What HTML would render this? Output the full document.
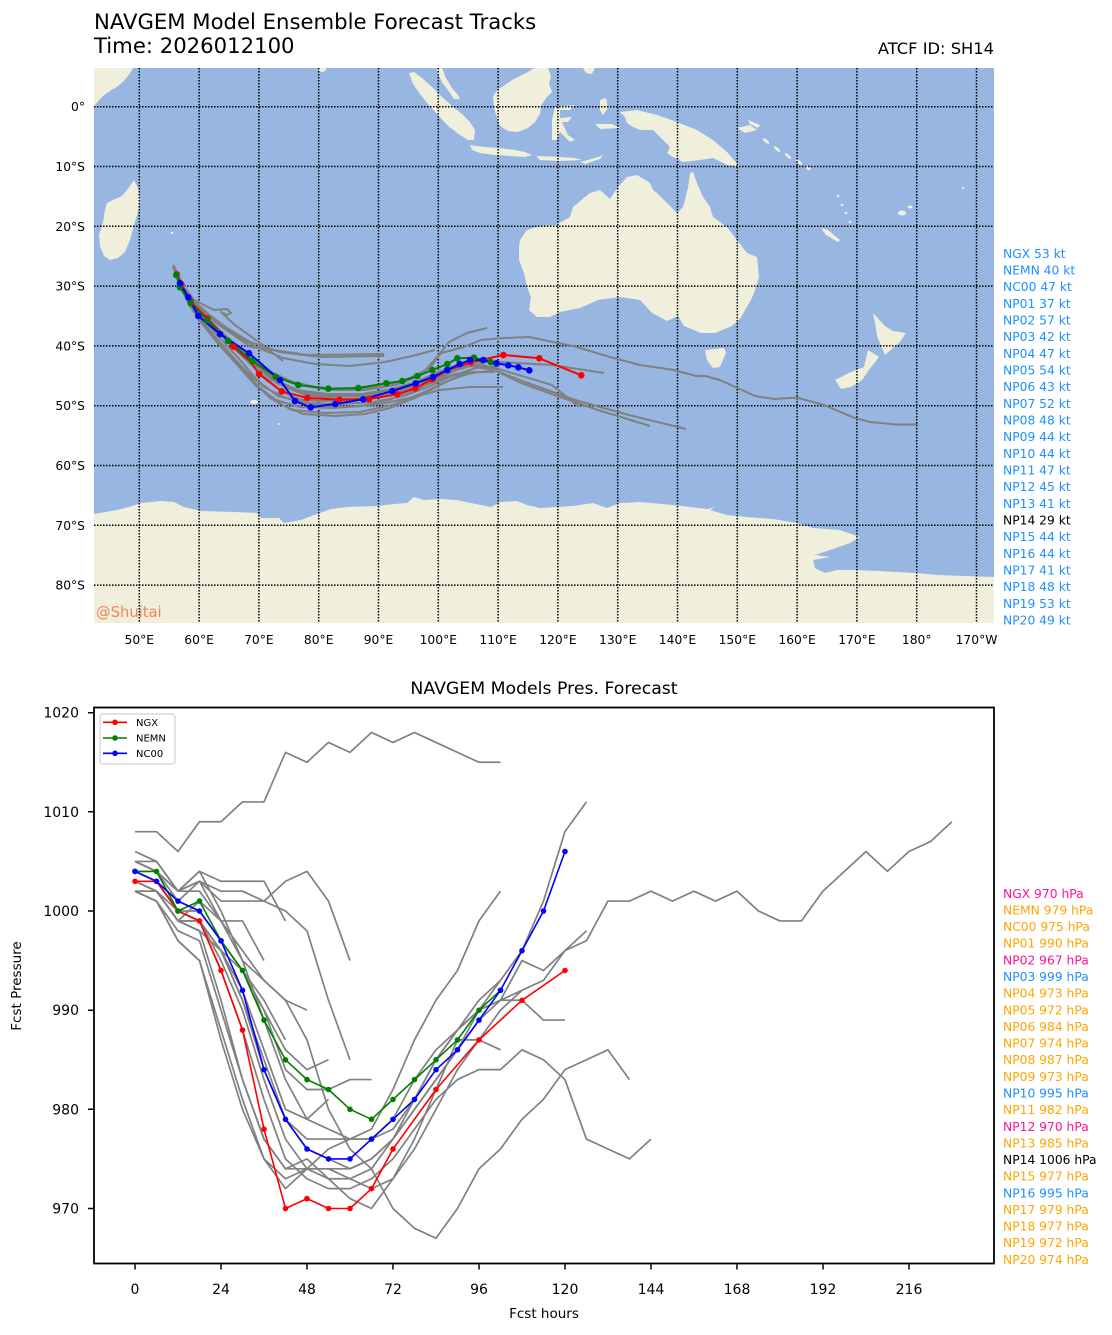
<!DOCTYPE html>
<html><head><meta charset="utf-8"><style>
html,body{margin:0;padding:0;background:#fff;}
svg{display:block;font-family:"DejaVu Sans","Liberation Sans",sans-serif;}
</style></head><body>
<svg width="1112" height="1335" viewBox="0 0 1112 1335" xmlns="http://www.w3.org/2000/svg">
<rect width="1112" height="1335" fill="#fff"/>
<text x="94" y="29" font-size="21.2">NAVGEM Model Ensemble Forecast Tracks</text>
<text x="94" y="53" font-size="21.2">Time: 2026012100</text>
<text x="994" y="54" font-size="16.3" text-anchor="end">ATCF ID: SH14</text>
<defs><clipPath id="mc"><rect x="94" y="68" width="900" height="555"/></clipPath></defs>
<g clip-path="url(#mc)">
<rect x="94" y="68" width="900" height="555" fill="#97b6e1"/>
<g fill="#efefdc">
<path d="M94,68 L133,68 C128,78 120,86 110,91 C102,96 97,102 94,107 Z"/>
<ellipse cx="322" cy="69" rx="4" ry="3"/>
<polygon points="127,190 134,180 138,188 140,200 138,212 134,225 130,240 125,252 118,258 110,260 104,256 100,246 99,235 103,222 105,210 107,203 115,199 122,196"/>
<polygon points="409,73 414,72 422,78 432,87 440,95 452,106 462,114 470,122 475,130 474,140 468,140 460,135 448,126 438,115 428,104 420,94 413,84"/>
<polygon points="437,68 442,68 446,78 452,88 458,95 460,99 454,99 448,90 442,82 438,74"/>
<polygon points="493,97 497,90 505,85 512,80 520,76 528,72 534,68 548,68 551,76 549,84 552,92 546,98 541,106 540,114 535,122 528,128 518,132 508,131 500,126 497,118 494,108"/>
<polygon points="470,145 485,147 500,148 515,150 525,152 532,155 525,157 510,156 495,155 480,153 472,150"/>
<polygon points="536,156 560,157 575,158 582,160 560,161 540,160"/>
<polygon points="580,162 595,158 603,155 600,159 585,164"/>
<polygon points="555,107 575,105 570,110 560,110 560,118 572,117 568,122 562,122 568,135 575,140 570,142 560,132 557,140 552,140 552,120"/>
<polygon points="583,68 595,68 592,74 586,73"/>
<polygon points="600,100 606,98 608,108 603,115 600,110"/>
<polygon points="595,124 612,124 620,128 600,129"/>
<polygon points="620,112 637,110 657,115 677,122 697,130 713,140 727,152 740,167 727,165 713,158 700,160 683,162 673,157 667,153 670,147 653,130 640,130 633,127 627,123 625,117"/>
<polygon points="737,128 750,125 757,130 745,133"/>
<polygon points="748,120 760,125 758,128 750,124"/>
<ellipse cx="766" cy="141" rx="4" ry="1.5" transform="rotate(40 766 141)"/>
<ellipse cx="777" cy="149" rx="4" ry="1.5" transform="rotate(40 777 149)"/>
<ellipse cx="788" cy="156" rx="4" ry="1.5" transform="rotate(40 788 156)"/>
<ellipse cx="799" cy="162" rx="4" ry="1.5" transform="rotate(40 799 162)"/>
<ellipse cx="808" cy="168" rx="3" ry="1.5" transform="rotate(40 808 168)"/>
<circle cx="838" cy="196" r="1.3"/><circle cx="842" cy="205" r="1.3"/><circle cx="846" cy="213" r="1.3"/><circle cx="850" cy="222" r="1.3"/>
<polygon points="821,228 828,230 840,240 838,242 826,235"/>
<ellipse cx="902" cy="213" rx="4" ry="2.5"/><ellipse cx="910" cy="207" rx="2.5" ry="1.5"/>
<circle cx="963" cy="188" r="1.2"/><circle cx="172" cy="233" r="1.2"/>
<polygon points="519,247 520,240 527,230 540,226 556,225 570,217 573,207 585,197 590,193 600,190 610,199 618,187 627,177 637,175 650,183 653,190 657,193 667,203 677,213 683,207 688,188 690,173 693,172 697,183 703,197 710,207 713,217 727,227 737,240 747,253 757,257 759,277 754,293 751,300 740,319 732,326 715,333 701,333 684,326 678,316 667,321 652,313 640,300 620,297 598,300 580,308 560,312 550,317 537,317 529,310 531,297 527,287 524,273 519,260"/>
<polygon points="705,350 724,348 726,353 720,367 713,368 707,360"/>
<polygon points="873,313 885,326 893,331 906,333 900,342 893,348 885,355 881,346 877,336 875,323"/>
<polygon points="879,357 869,370 862,380 851,387 841,389 835,380 851,372 864,367 868,350"/>
<ellipse cx="254" cy="402" rx="4" ry="2"/>
<circle cx="279" cy="424" r="1"/>
<polygon points="94,514 117,510 129,507 141,503 161,501 174,502 184,507 201,511 234,512 257,513 261,518 279,518 284,523 301,520 314,515 331,509 347,507 377,506 394,504 407,503 414,497 424,500 441,499 457,500 471,503 491,507 501,502 517,501 527,505 540,508 573,506 593,503 607,508 620,503 640,502 673,505 707,509 715,507 710,510 727,515 747,517 773,519 797,523 813,528 840,530 860,537 850,543 830,550 815,555 830,557 813,560 815,568 825,573 837,570 857,570 917,573 937,575 994,577 994,623 94,623"/>
</g>
<g stroke="#000" stroke-width="1.5" stroke-dasharray="1.5,1.5" fill="none">
<path d="M139.3,68V623M199.1,68V623M258.9,68V623M318.7,68V623M378.5,68V623M438.3,68V623M498.1,68V623M557.9,68V623M617.7,68V623M677.5,68V623M737.3,68V623M797.1,68V623M856.9,68V623M916.7,68V623M976.5,68V623"/>
<path d="M94,106.7H994M94,166.5H994M94,226.3H994M94,286.1H994M94,345.9H994M94,405.7H994M94,465.5H994M94,525.3H994M94,585.1H994"/>
</g>
<g stroke="#808080" stroke-width="2" fill="none" stroke-linejoin="round">
<polyline points="174,266 181,284 191,302 206,318 224,336 244,354 262,368 286,380 315,387 350,390 385,386 410,378 430,368 441,353 464,347 481,340 504,338 529,337 575,346.5 610,357 640,365 674,370 696,376 705,376 720,380 755,396 774,399 797,397.6 824,405 854,417.7 870,422 896,424.5 918,424.5"/>
<polyline points="175,270 183,289 194,306 210,322 230,342 252,362 272,380 298,392 330,396 365,396 395,392 420,384 442,374 462,366 482,364 502,373 525,382 575,400 629,415 686,429"/>
<polyline points="176,272 184,290 196,308 213,325 234,345 257,366 278,384 305,395 338,399 372,398 402,393 425,384 447,373 470,366 494,370 521,383 560,397 598,410 650,426"/>
<polyline points="174,268 182,288 193,306 209,322 228,341 250,361 270,378 295,390 328,394 362,394 392,389 416,382 438,372 462,364 495,368 552,385 579,407"/>
<polyline points="175,270 184,290 196,307 212,323 231,342 253,362 275,380 302,392 335,396 368,394 398,389 422,380 444,370 466,362 498,362 552,365 604,373"/>
<polyline points="176,271 185,292 198,311 216,330 238,352 260,373 282,392 310,404 345,407 380,404 410,398 440,390 470,387 503,387"/>
<polyline points="174,267 182,286 193,304 209,320 229,339 250,357 271,372 297,384 330,390 365,390 395,385 420,376 437,357 449,342 467,333 487,328"/>
<polyline points="175,269 184,288 197,305 215,322 235,336 251,347 274,350 307,355 384,354"/>
<polyline points="173,265 180,282 191,298 207,313 227,328 250,342 280,352 320,357 384,356"/>
<polyline points="174,268 185,288 194,300 214,310 227,309 231,313 227,315 221,312 235,325 260,343 283,361"/>
<polyline points="175,271 183,291 195,312 212,333 232,356 252,380 270,398 292,410 325,413 360,412 392,405 420,394 445,382 470,373 492,371"/>
<polyline points="176,273 186,295 200,318 218,340 238,363 258,386 280,404 303,414 335,416 365,414 390,408 415,398 438,386 458,376 478,372"/>
<polyline points="173,266 179,283 188,300 202,318 220,338 240,360 258,381 278,396 306,403 340,404 374,402 404,396 428,387 452,376 476,368 500,366"/>
<polyline points="175,270 181,288 190,306 203,325 220,346 240,368 256,386 276,400 300,407 333,408 362,406 388,400 412,392 436,380 456,370"/>
<polyline points="174,269 182,289 193,309 208,329 226,350 246,371 264,387 286,398 318,401 352,400 382,397 408,390 430,381 450,372 468,366"/>
<polyline points="176,270 185,289 197,307 213,324 232,343 254,363 276,380 300,392 330,398 362,399 392,395 416,389 436,381 455,374 474,372 495,372"/>
<polyline points="174,268 183,287 196,303 213,318 233,333 256,347 283,358 315,364 350,366 385,362 412,356 435,350"/>
</g>
<g fill="none" stroke-width="2" stroke-linejoin="round">
<polyline stroke="#ff0000" points="176.7,274.3 181.3,284.3 190.7,301.7 207.3,318.3 219,331 233.3,346.7 250.7,361.7 259,374 281.7,391.3 307.3,398 339.3,399.7 369,399 397.3,394.3 415.3,388.3 432.3,379.3 447.3,370 470.7,362.3 503.3,355 539.3,358.3 581.3,375.3"/>
<polyline stroke="#008000" points="176.3,275 180,287.3 190.7,303.3 207.3,320 228,340.7 252.3,361 275.7,376.7 298.3,385 328.3,388.7 358.3,388 386.3,383.3 402.3,381 417.3,376 432.3,370 447.3,364 457.3,358.3 474,357.7 490.7,362"/>
<polyline stroke="#0000ff" points="180,283.3 188.3,297.3 198.3,316 220,334 249,353.3 280,380 295,401 310.7,407.3 335.3,404 363.3,399.3 392.3,391 415.7,383.3 433,377 447.3,370 459.7,364 470,360 483.3,360 496.3,363.3 508.3,365.3 518.3,367.3 529.3,370.3"/>
</g>
<g fill="#ff0000">
<circle cx="176.7" cy="274.3" r="3.3"/><circle cx="181.3" cy="284.3" r="3.3"/><circle cx="190.7" cy="301.7" r="3.3"/><circle cx="207.3" cy="318.3" r="3.3"/><circle cx="233.3" cy="346.7" r="3.3"/><circle cx="259" cy="374" r="3.3"/><circle cx="281.7" cy="391.3" r="3.3"/><circle cx="307.3" cy="398" r="3.3"/><circle cx="339.3" cy="399.7" r="3.3"/><circle cx="369" cy="399" r="3.3"/><circle cx="397.3" cy="394.3" r="3.3"/><circle cx="415.3" cy="388.3" r="3.3"/><circle cx="432.3" cy="379.3" r="3.3"/><circle cx="447.3" cy="370" r="3.3"/><circle cx="470.7" cy="362.3" r="3.3"/><circle cx="503.3" cy="355" r="3.3"/><circle cx="539.3" cy="358.3" r="3.3"/><circle cx="581.3" cy="375.3" r="3.3"/>
</g>
<g fill="#008000">
<circle cx="176.3" cy="275" r="3.3"/><circle cx="180" cy="287.3" r="3.3"/><circle cx="190.7" cy="303.3" r="3.3"/><circle cx="207.3" cy="320" r="3.3"/><circle cx="228" cy="340.7" r="3.3"/><circle cx="252.3" cy="361" r="3.3"/><circle cx="275.7" cy="376.7" r="3.3"/><circle cx="298.3" cy="385" r="3.3"/><circle cx="328.3" cy="388.7" r="3.3"/><circle cx="358.3" cy="388" r="3.3"/><circle cx="386.3" cy="383.3" r="3.3"/><circle cx="402.3" cy="381" r="3.3"/><circle cx="417.3" cy="376" r="3.3"/><circle cx="432.3" cy="370" r="3.3"/><circle cx="447.3" cy="364" r="3.3"/><circle cx="457.3" cy="358.3" r="3.3"/><circle cx="474" cy="357.7" r="3.3"/><circle cx="490.7" cy="362" r="3.3"/>
</g>
<g fill="#0000ff">
<circle cx="180" cy="283.3" r="3.3"/><circle cx="188.3" cy="297.3" r="3.3"/><circle cx="198.3" cy="316" r="3.3"/><circle cx="220" cy="334" r="3.3"/><circle cx="249" cy="353.3" r="3.3"/><circle cx="280" cy="380" r="3.3"/><circle cx="295" cy="401" r="3.3"/><circle cx="310.7" cy="407.3" r="3.3"/><circle cx="335.3" cy="404" r="3.3"/><circle cx="363.3" cy="399.3" r="3.3"/><circle cx="392.3" cy="391" r="3.3"/><circle cx="415.7" cy="383.3" r="3.3"/><circle cx="433" cy="377" r="3.3"/><circle cx="447.3" cy="370" r="3.3"/><circle cx="459.7" cy="364" r="3.3"/><circle cx="470" cy="360" r="3.3"/><circle cx="483.3" cy="360" r="3.3"/><circle cx="496.3" cy="363.3" r="3.3"/><circle cx="508.3" cy="365.3" r="3.3"/><circle cx="518.3" cy="367.3" r="3.3"/><circle cx="529.3" cy="370.3" r="3.3"/>
</g>
<text x="96" y="617" font-size="14.7" fill="#f5825a">@Shuitai</text>
</g>
<g font-size="12.3" text-anchor="end">
<text x="85" y="111">0°</text><text x="85" y="171">10°S</text><text x="85" y="230.8">20°S</text><text x="85" y="290.6">30°S</text><text x="85" y="350.4">40°S</text><text x="85" y="410.2">50°S</text><text x="85" y="470">60°S</text><text x="85" y="529.8">70°S</text><text x="85" y="589.6">80°S</text>
</g>
<g font-size="12.3" text-anchor="middle">
<text x="139.3" y="644">50°E</text><text x="199.1" y="644">60°E</text><text x="258.9" y="644">70°E</text><text x="318.7" y="644">80°E</text><text x="378.5" y="644">90°E</text><text x="438.3" y="644">100°E</text><text x="498.1" y="644">110°E</text><text x="557.9" y="644">120°E</text><text x="617.7" y="644">130°E</text><text x="677.5" y="644">140°E</text><text x="737.3" y="644">150°E</text><text x="797.1" y="644">160°E</text><text x="856.9" y="644">170°E</text><text x="916.7" y="644">180°</text><text x="976.5" y="644">170°W</text>
</g>
<g font-size="12.3" fill="#1e90ff">
<text x="1003" y="257.8">NGX 53 kt</text><text x="1003" y="274.5">NEMN 40 kt</text><text x="1003" y="291.1">NC00 47 kt</text><text x="1003" y="307.8">NP01 37 kt</text><text x="1003" y="324.5">NP02 57 kt</text><text x="1003" y="341.2">NP03 42 kt</text><text x="1003" y="357.8">NP04 47 kt</text><text x="1003" y="374.5">NP05 54 kt</text><text x="1003" y="391.2">NP06 43 kt</text><text x="1003" y="407.8">NP07 52 kt</text><text x="1003" y="424.5">NP08 48 kt</text><text x="1003" y="441.2">NP09 44 kt</text><text x="1003" y="457.9">NP10 44 kt</text><text x="1003" y="474.5">NP11 47 kt</text><text x="1003" y="491.2">NP12 45 kt</text><text x="1003" y="507.9">NP13 41 kt</text><text x="1003" y="524.5" fill="#000">NP14 29 kt</text><text x="1003" y="541.2">NP15 44 kt</text><text x="1003" y="557.9">NP16 44 kt</text><text x="1003" y="574.5">NP17 41 kt</text><text x="1003" y="591.2">NP18 48 kt</text><text x="1003" y="607.9">NP19 53 kt</text><text x="1003" y="624.5">NP20 49 kt</text>
</g>

<!-- Pressure chart -->
<text x="544" y="694" font-size="17.3" text-anchor="middle">NAVGEM Models Pres. Forecast</text>
<defs><clipPath id="pc"><rect x="94" y="707.5" width="900" height="556"/></clipPath></defs>
<g clip-path="url(#pc)">
<g transform="matrix(3.583,0,0,-9.916,135,10827.0)" fill="none" stroke="#808080" stroke-width="1.7" stroke-linejoin="round">
<polyline vector-effect="non-scaling-stroke" points="0,1004 6,1004 12,1002 18,1002 24,999 30,996 36,993 42,991 48,990"/>
<polyline vector-effect="non-scaling-stroke" points="0,1005 6,1004 12,1002 18,1003 24,999 30,995 36,993 42,991 48,987 54,980 60,976 66,974 72,970 78,968 84,967 90,970 96,974 102,976 108,979 114,981 120,984 126,985 132,986 138,983"/>
<polyline vector-effect="non-scaling-stroke" points="0,1005 6,1004 12,1002 18,1004 24,1003 30,1003 36,1003 42,999"/>
<polyline vector-effect="non-scaling-stroke" points="0,1004 6,1003 12,1000 18,999 24,995 30,990 36,983 42,977 48,974 54,973 60,973 66,974 72,977 78,981 84,985 90,988 96,991 102,993 108,996 114,1001 120,1008 126,1011"/>
<polyline vector-effect="non-scaling-stroke" points="0,1003 6,1002 12,999 18,999 24,994 30,988 36,981 42,975 48,973 54,972 60,972 66,973 72,975 78,978 84,981 90,983 96,984 102,984 108,986 114,985 120,983 126,977 132,976 138,975 144,977"/>
<polyline vector-effect="non-scaling-stroke" points="0,1004 6,1003 12,1000 18,1000 24,997 30,994 36,990 42,986 48,984 54,985"/>
<polyline vector-effect="non-scaling-stroke" points="0,1004 6,1003 12,1000 18,999 24,996 30,991 36,985 42,979 48,976 54,975 60,974 66,975 72,977 78,980 84,983 90,986 96,989 102,991 108,995 114,994 120,996 126,997 132,1001 138,1001 144,1002 150,1001 156,1002 162,1001 168,1002 174,1000 180,999 186,999 192,1002 198,1004 204,1006 210,1004 216,1006 222,1007 228,1009"/>
<polyline vector-effect="non-scaling-stroke" points="0,1003 6,1002 12,999 18,998 24,996 30,994 36,991 42,987"/>
<polyline vector-effect="non-scaling-stroke" points="0,1002 6,1001 12,997 18,995 24,988 30,981 36,975 42,973 48,974 54,976 60,977 66,977 72,978 78,981 84,985 90,988 96,990 102,991 108,991 114,989 120,989"/>
<polyline vector-effect="non-scaling-stroke" points="0,1006 6,1005 12,1002 18,1003 24,1001 30,1001 36,1001 42,1003 48,1004 54,1001 60,995"/>
<polyline vector-effect="non-scaling-stroke" points="0,1004 6,1003 12,1001 18,1000 24,997 30,994 36,990 42,984 48,982 54,982 60,983 66,983"/>
<polyline vector-effect="non-scaling-stroke" points="0,1002 6,1002 12,999 18,998 24,991 30,983 36,977 42,974 48,975 54,973 60,971 66,970 72,973 78,977 84,982 90,987 96,987 102,986"/>
<polyline vector-effect="non-scaling-stroke" points="0,1005 6,1004 12,1001 18,1003 24,1002 30,1002 36,1001 42,1000 48,998 54,991 60,985"/>
<polyline vector-effect="non-scaling-stroke" points="0,1008 6,1008 12,1006 18,1009 24,1009 30,1011 36,1011 42,1016 48,1015 54,1017 60,1016 66,1018 72,1017 78,1018 84,1017 90,1016 96,1015 102,1015"/>
<polyline vector-effect="non-scaling-stroke" points="0,1005 6,1005 12,1002 18,1004 24,1000 30,995 36,989 42,983 48,979 54,978 60,977 66,978 72,982 78,987 84,991 90,994 96,999 102,1002"/>
<polyline vector-effect="non-scaling-stroke" points="0,1002 6,1002 12,999 18,1001 24,999 30,999 36,995"/>
<polyline vector-effect="non-scaling-stroke" points="0,1003 6,1002 12,1000 18,999 24,996 30,992 36,986 42,980 48,979 54,981"/>
<polyline vector-effect="non-scaling-stroke" points="0,1003 6,1002 12,999 18,999 24,996 30,991 36,984 42,979 48,977 54,977 60,977 66,977 72,979 78,983 84,986 90,988 96,990 102,991 108,992 114,993 120,996 126,998"/>
<polyline vector-effect="non-scaling-stroke" points="0,1002 6,1001 12,997 18,995 24,987 30,980 36,975 42,972 48,974 54,974 60,973 66,972 72,973 78,976 84,980 90,984 96,987 102,990 108,992"/>
<polyline vector-effect="non-scaling-stroke" points="0,1002 6,1001 12,998 18,997 24,990 30,983 36,977 42,974 48,974 54,974 60,974 66,975 72,977 78,980 84,983 90,986 96,990 102,993"/>
</g>
<g fill="none" stroke-width="1.6" stroke-linejoin="round">
<polyline stroke="#ff0000" points="135,881.3 156.5,881.3 178,911 199.5,920.9 221,970.5 242.5,1030 264,1129.2 285.5,1208.5 307,1198.6 328.5,1208.5 350,1208.5 371.5,1188.7 393,1149 436,1089.5 479,1039.9 522,1000.3 565,970.5"/>
<polyline stroke="#008000" points="135,871.4 156.5,871.4 178,911 199.5,901.1 221,940.8 242.5,970.5 264,1020.1 285.5,1059.8 307,1079.6 328.5,1089.5 350,1109.3 371.5,1119.3 393,1099.4 414.5,1079.6 436,1059.8 457.5,1039.9 479,1010.2 500.5,990.3"/>
<polyline stroke="#0000ff" points="135,871.4 156.5,881.3 178,901.1 199.5,911 221,940.8 242.5,990.3 264,1069.7 285.5,1119.3 307,1149 328.5,1158.9 350,1158.9 371.5,1139.1 393,1119.3 414.5,1099.4 436,1069.7 457.5,1049.8 479,1020.1 500.5,990.3 522,950.7 543.5,911 565,851.5"/>
</g>
<g fill="#ff0000">
<circle cx="135" cy="881.3" r="2.8"/><circle cx="156.5" cy="881.3" r="2.8"/><circle cx="178" cy="911" r="2.8"/><circle cx="199.5" cy="920.9" r="2.8"/><circle cx="221" cy="970.5" r="2.8"/><circle cx="242.5" cy="1030" r="2.8"/><circle cx="264" cy="1129.2" r="2.8"/><circle cx="285.5" cy="1208.5" r="2.8"/><circle cx="307" cy="1198.6" r="2.8"/><circle cx="328.5" cy="1208.5" r="2.8"/><circle cx="350" cy="1208.5" r="2.8"/><circle cx="371.5" cy="1188.7" r="2.8"/><circle cx="393" cy="1149" r="2.8"/><circle cx="436" cy="1089.5" r="2.8"/><circle cx="479" cy="1039.9" r="2.8"/><circle cx="522" cy="1000.3" r="2.8"/><circle cx="565" cy="970.5" r="2.8"/>
</g>
<g fill="#008000">
<circle cx="135" cy="871.4" r="2.8"/><circle cx="156.5" cy="871.4" r="2.8"/><circle cx="178" cy="911" r="2.8"/><circle cx="199.5" cy="901.1" r="2.8"/><circle cx="221" cy="940.8" r="2.8"/><circle cx="242.5" cy="970.5" r="2.8"/><circle cx="264" cy="1020.1" r="2.8"/><circle cx="285.5" cy="1059.8" r="2.8"/><circle cx="307" cy="1079.6" r="2.8"/><circle cx="328.5" cy="1089.5" r="2.8"/><circle cx="350" cy="1109.3" r="2.8"/><circle cx="371.5" cy="1119.3" r="2.8"/><circle cx="393" cy="1099.4" r="2.8"/><circle cx="414.5" cy="1079.6" r="2.8"/><circle cx="436" cy="1059.8" r="2.8"/><circle cx="457.5" cy="1039.9" r="2.8"/><circle cx="479" cy="1010.2" r="2.8"/><circle cx="500.5" cy="990.3" r="2.8"/>
</g>
<g fill="#0000ff">
<circle cx="135" cy="871.4" r="2.8"/><circle cx="156.5" cy="881.3" r="2.8"/><circle cx="178" cy="901.1" r="2.8"/><circle cx="199.5" cy="911" r="2.8"/><circle cx="221" cy="940.8" r="2.8"/><circle cx="242.5" cy="990.3" r="2.8"/><circle cx="264" cy="1069.7" r="2.8"/><circle cx="285.5" cy="1119.3" r="2.8"/><circle cx="307" cy="1149" r="2.8"/><circle cx="328.5" cy="1158.9" r="2.8"/><circle cx="350" cy="1158.9" r="2.8"/><circle cx="371.5" cy="1139.1" r="2.8"/><circle cx="393" cy="1119.3" r="2.8"/><circle cx="414.5" cy="1099.4" r="2.8"/><circle cx="436" cy="1069.7" r="2.8"/><circle cx="457.5" cy="1049.8" r="2.8"/><circle cx="479" cy="1020.1" r="2.8"/><circle cx="500.5" cy="990.3" r="2.8"/><circle cx="522" cy="950.7" r="2.8"/><circle cx="543.5" cy="911" r="2.8"/><circle cx="565" cy="851.5" r="2.8"/>
</g>
</g>
<!-- legend -->
<rect x="100" y="714" width="75" height="50" rx="3" ry="3" fill="#fff" fill-opacity="0.8" stroke="#d0d0d0" stroke-width="1.2"/>
<line x1="103" y1="722.3" x2="127" y2="722.3" stroke="#ff0000" stroke-width="1.6"/><circle cx="115" cy="722.3" r="2.8" fill="#ff0000"/>
<line x1="103" y1="738" x2="127" y2="738" stroke="#008000" stroke-width="1.6"/><circle cx="115" cy="738" r="2.8" fill="#008000"/>
<line x1="103" y1="753.3" x2="127" y2="753.3" stroke="#0000ff" stroke-width="1.6"/><circle cx="115" cy="753.3" r="2.8" fill="#0000ff"/>
<g font-size="10"><text x="136" y="726">NGX</text><text x="136" y="741.6">NEMN</text><text x="136" y="757">NC00</text></g>
<!-- frame -->
<rect x="94" y="707.5" width="900" height="556" fill="none" stroke="#000" stroke-width="1.8"/>
<g stroke="#000" stroke-width="1.5">
<path d="M135,1264.5v5M221,1264.5v5M307,1264.5v5M393,1264.5v5M479,1264.5v5M565,1264.5v5M651,1264.5v5M737,1264.5v5M823,1264.5v5M909,1264.5v5"/>
<path d="M93,1208.5h-5M93,1109.3h-5M93,1010.2h-5M93,911h-5M93,811.8h-5M93,712.7h-5"/>
</g>
<g font-size="14" text-anchor="middle">
<text x="135" y="1294">0</text><text x="221" y="1294">24</text><text x="307" y="1294">48</text><text x="393" y="1294">72</text><text x="479" y="1294">96</text><text x="565" y="1294">120</text><text x="651" y="1294">144</text><text x="737" y="1294">168</text><text x="823" y="1294">192</text><text x="909" y="1294">216</text>
</g>
<g font-size="14" text-anchor="end">
<text x="79" y="1213.5">970</text><text x="79" y="1114.3">980</text><text x="79" y="1015.2">990</text><text x="79" y="916">1000</text><text x="79" y="816.8">1010</text><text x="79" y="717.7">1020</text>
</g>
<text x="544" y="1318" font-size="13.5" text-anchor="middle">Fcst hours</text>
<text x="0" y="0" font-size="13.5" text-anchor="middle" transform="translate(21,986) rotate(-90)">Fcst Pressure</text>
<g font-size="12.3" fill="#ffa500">
<text x="1003" y="897.8" fill="#ff1493">NGX 970 hPa</text>
<text x="1003" y="914.4">NEMN 979 hPa</text>
<text x="1003" y="931.1">NC00 975 hPa</text>
<text x="1003" y="947.7">NP01 990 hPa</text>
<text x="1003" y="964.4" fill="#ff1493">NP02 967 hPa</text>
<text x="1003" y="981" fill="#1e90ff">NP03 999 hPa</text>
<text x="1003" y="997.6">NP04 973 hPa</text>
<text x="1003" y="1014.3">NP05 972 hPa</text>
<text x="1003" y="1030.9">NP06 984 hPa</text>
<text x="1003" y="1047.6">NP07 974 hPa</text>
<text x="1003" y="1064.2">NP08 987 hPa</text>
<text x="1003" y="1080.8">NP09 973 hPa</text>
<text x="1003" y="1097.5" fill="#1e90ff">NP10 995 hPa</text>
<text x="1003" y="1114.1">NP11 982 hPa</text>
<text x="1003" y="1130.8" fill="#ff1493">NP12 970 hPa</text>
<text x="1003" y="1147.4">NP13 985 hPa</text>
<text x="1003" y="1164" fill="#000">NP14 1006 hPa</text>
<text x="1003" y="1180.7">NP15 977 hPa</text>
<text x="1003" y="1197.3" fill="#1e90ff">NP16 995 hPa</text>
<text x="1003" y="1214">NP17 979 hPa</text>
<text x="1003" y="1230.6">NP18 977 hPa</text>
<text x="1003" y="1247.2">NP19 972 hPa</text>
<text x="1003" y="1263.9">NP20 974 hPa</text>
</g>
</svg>
</body></html>
